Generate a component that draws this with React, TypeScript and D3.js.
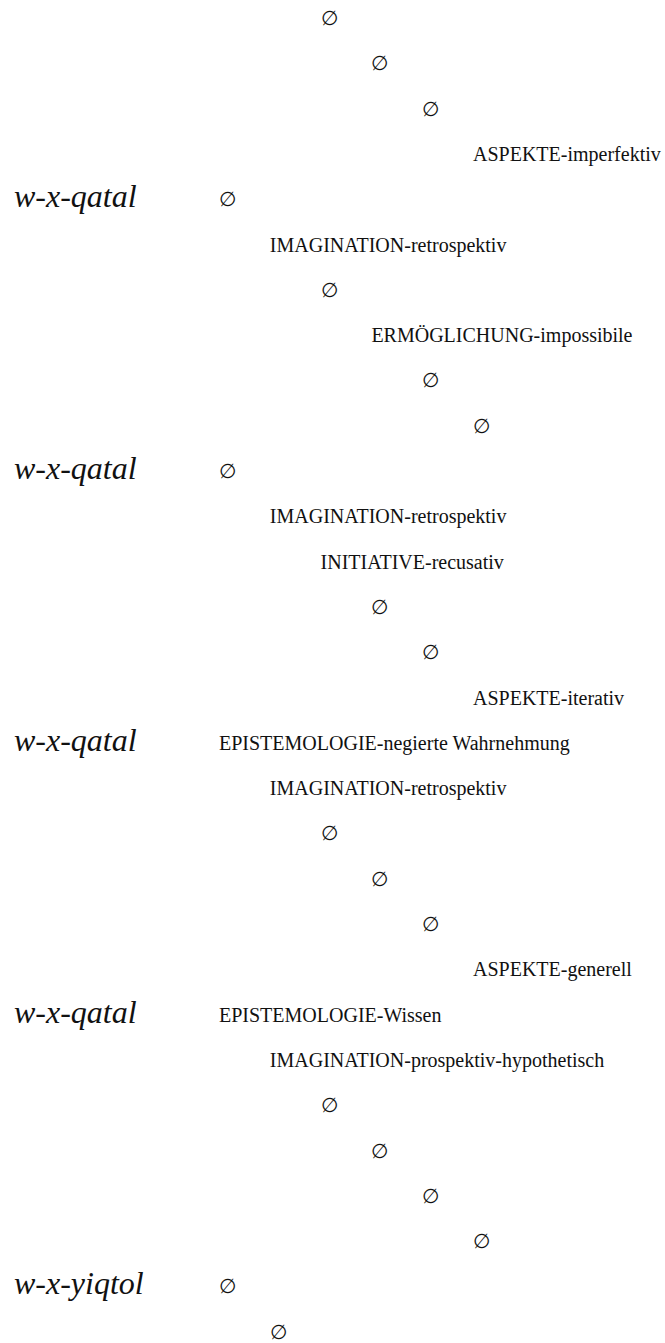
import React from "react";
import * as d3 from "d3";

// Hierarchy rows: indentation level and label ("∅" = empty slot)
const rowLevels: number[] = [
  2, 3, 4, 5,
  0, 1, 2, 3, 4, 5,
  0, 1, 2, 3, 4, 5,
  0, 1, 2, 3, 4, 5,
  0, 1, 2, 3, 4, 5,
  0, 1,
];
const rowLabels: string[] = [
  "∅", "∅", "∅", "ASPEKTE-imperfektiv",
  "∅", "IMAGINATION-retrospektiv", "∅", "ERMÖGLICHUNG-impossibile", "∅", "∅",
  "∅", "IMAGINATION-retrospektiv", "INITIATIVE-recusativ", "∅", "∅", "ASPEKTE-iterativ",
  "EPISTEMOLOGIE-negierte Wahrnehmung", "IMAGINATION-retrospektiv", "∅", "∅", "∅", "ASPEKTE-generell",
  "EPISTEMOLOGIE-Wissen", "IMAGINATION-prospektiv-hypothetisch", "∅", "∅", "∅", "∅",
  "∅", "∅",
];
// Verb forms and the row on which each one stands
const verbForms: string[] = ["w-x-qatal", "w-x-qatal", "w-x-qatal", "w-x-qatal", "w-x-yiqtol"];
const verbRows: number[] = [4, 10, 16, 22, 28];

const W = 665;
const H = 1343;

export default function App() {
  const x = d3.scaleLinear().domain([0, 5]).range([219, 473]);
  const y = d3.scaleLinear().domain([0, rowLabels.length - 1]).range([25, 25 + 45.3 * (rowLabels.length - 1)]);
  const font = "'Liberation Serif', 'Times New Roman', Times, serif";

  return (
    <svg
      width={W}
      height={H}
      style={{ position: "absolute", left: 0, top: 0, background: "#fff", fontFamily: font }}
    >
      {rowLabels.map((label, i) => (
        <text key={`r${i}`} x={x(rowLevels[i])} y={y(i)} fontSize={20} fill="#111">
          {label}
        </text>
      ))}
      {verbForms.map((v, j) => (
        <text key={`v${j}`} x={14} y={y(verbRows[j]) + 1} fontSize={32} fontStyle="italic" fill="#111">
          {v}
        </text>
      ))}
    </svg>
  );
}
